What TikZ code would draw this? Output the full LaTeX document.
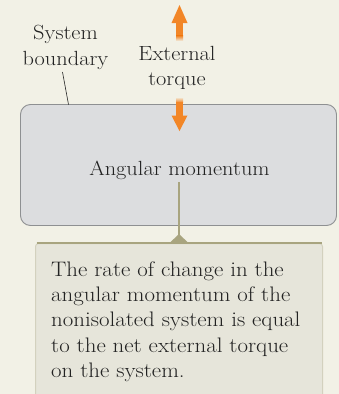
\documentclass[tikz,border=0pt]{standalone}
\usepackage{fontspec}
\setmainfont{Latin Modern Roman}[FakeStretch=1.09]
\usepackage{xcolor}
\definecolor{bgc}{HTML}{F2F1E6}
\definecolor{boxfill}{HTML}{DCDDDF}
\definecolor{boxline}{HTML}{8E9092}
\definecolor{notefill}{HTML}{E6E5DA}
\definecolor{noteedge}{HTML}{D3D1BE}
\definecolor{olive}{HTML}{A8A47F}
\definecolor{torq}{HTML}{F28627}
\definecolor{txt}{HTML}{222222}
\tikzset{
  lbl/.style={text=txt, font=\fontsize{20.5}{25.5}\selectfont, align=center, inner sep=0pt},
  systembox/.style={draw=boxline, line width=0.9pt, fill=boxfill, rounded corners=10pt,
    minimum width=316pt, minimum height=121pt, inner sep=0pt},
  notebox/.style={draw=noteedge, line width=1pt, fill=notefill, rounded corners=3pt,
    minimum width=287pt, minimum height=160pt, inner sep=0pt},
}
\begin{document}
\begin{tikzpicture}[x=1pt,y=-1pt]
\fill[bgc] (0,0) rectangle (339,394);
\useasboundingbox (0,0) rectangle (339,394);
% system box
\node[systembox] (sys) at (178.5,165) {};
\node[lbl, anchor=base] (am) at (179.5,175) {Angular momentum};
% note box
\node[notebox, anchor=north west] (note) at (35,243) {};
\draw[olive, line width=2pt] ([xshift=1.5pt]note.north west) -- ([xshift=-1.5pt]note.north east);
\node[lbl, anchor=base west, align=left, font=\fontsize{21}{25.3}\selectfont] (desc) at (51,377.5)
 {The rate of change in the\\angular momentum of the\\nonisolated system is equal\\to the net external torque\\on the system.};
% connector
\coordinate (ctop) at (179,182);
\coordinate (cbot) at (179,243);
\draw[olive, line width=1.8pt] (ctop) -- (cbot);
\fill[olive] (169,243.5) -- (179,234) -- (189,243.5) -- cycle;
% labels
\node[lbl, anchor=base, font=\fontsize{20.5}{26}\selectfont] (sysb) at (65.5,65) {System\\boundary};
\node[lbl, anchor=base, font=\fontsize{20.5}{25}\selectfont] (ext) at (177,85) {External\\torque};
\coordinate (bl1) at (62.5,72);
\coordinate (bl2) at (68.5,104.5);
\draw[txt, line width=0.6pt] (bl1) -- (bl2);
% up arrow
\fill[torq] (179.5,5) -- (187.5,23) -- (171.5,23) -- cycle;
\fill[torq] (176,22.5) rectangle (183,36);
\shade[top color=torq, bottom color=bgc] (176,35.8) rectangle (183,41);
% down arrow
\shade[top color=bgc, bottom color=torq] (176,97) rectangle (183,102.5);
\fill[torq] (176,102.3) rectangle (183,116);
\fill[torq] (179.5,131) -- (187.5,115.5) -- (171.5,115.5) -- cycle;
\end{tikzpicture}
\end{document}
